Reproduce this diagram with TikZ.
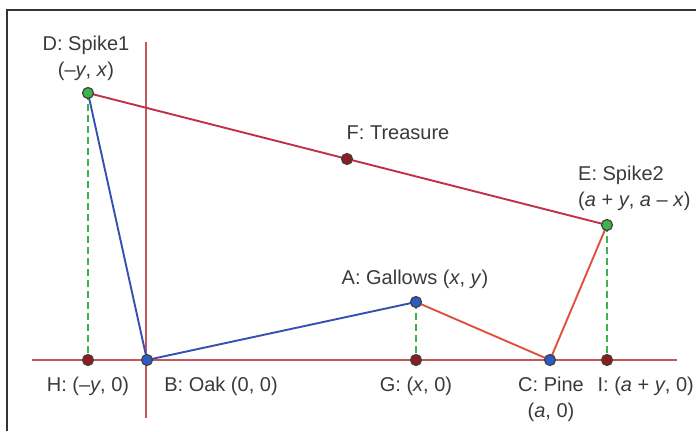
\documentclass[tikz,border=0pt]{standalone}
\usepackage{fontspec}
\setmainfont{Liberation Sans}
\usetikzlibrary{backgrounds}
\definecolor{inkGray} {HTML}{3A3A3A}
\definecolor{frameGray}{HTML}{333333}
\definecolor{axisRed} {HTML}{C4585A}
\definecolor{segCrim} {HTML}{C0304A}
\definecolor{segOrng} {HTML}{E0503E}
\definecolor{segBlue} {HTML}{3550B0}
\definecolor{dashGrn} {HTML}{3CB44B}
\definecolor{ptGreen} {HTML}{3DB54A}
\definecolor{ptDark}  {HTML}{8E1B1E}
\definecolor{ptBlue}  {HTML}{2A5CC8}

\begin{document}
\begin{tikzpicture}[
    x=1pt, y=-1pt,
    every node/.style={font=\fontsize{20}{26}\selectfont, text=inkGray},
    pt/.style={
        circle, draw=black!75, line width=1.2pt,
        minimum size=11pt, inner sep=0pt
    },
    axis/.style={draw=axisRed, line width=2.2pt},
    seg/.style={line width=1.9pt},
    drop/.style={draw=dashGrn, line width=2.2pt, dash pattern=on 7pt off 4pt},
    lbl/.style={align=center, inner sep=1pt}
]
\useasboundingbox (0,0) rectangle (696,431);

% ── FRAME ──────────────────────────────────────────────────────
\draw[frameGray, line width=1.5pt] (7,431) -- (7,10) -- (696,10);

% ── POINTS ─────────────────────────────────────────────────────
\node[pt, fill=ptGreen] (D) at (88,93)   {};
\node[pt, fill=ptGreen] (E) at (607,225) {};
\node[pt, fill=ptDark]  (F) at (347,159) {};
\node[pt, fill=ptBlue]  (A) at (416,302) {};
\node[pt, fill=ptBlue]  (B) at (147,360) {};
\node[pt, fill=ptBlue]  (C) at (550,360) {};
\node[pt, fill=ptDark]  (H) at (88,360)  {};
\node[pt, fill=ptDark]  (G) at (416,360) {};
\node[pt, fill=ptDark]  (I) at (607,360) {};

% axis ends
\coordinate (xl) at (32,360);
\coordinate (xr) at (677,360);
\coordinate (yt) at (146,42);
\coordinate (yb) at (146,418);

% ── LINES ──────────────────────────────────────────────────────
\begin{scope}[on background layer]
    \draw[axis] (xl) -- (xr);
    \draw[axis] (yt) -- (yb);

    \draw[drop] (D.center) -- (H.center);
    \draw[drop] (A.center) -- (G.center);
    \draw[drop] (E.center) -- (I.center);

    \draw[seg, segCrim] (D.center) -- (E.center);
    \draw[seg, segBlue] (D.center) -- (B.center) -- (A.center);
    \draw[seg, segOrng] (A.center) -- (C.center) -- (E.center);
\end{scope}

% ── LABELS ─────────────────────────────────────────────────────
\node[lbl] (lD) at (86,58)   {D: Spike1\\(–\textit{y}, \textit{x})};
\node[lbl] (lF) at (398,133) {F: Treasure};
\node[lbl, align=left, anchor=west]
    (lE) at (577,188) {E: Spike2\\(\textit{a} + \textit{y}, \textit{a} – \textit{x})};
\node[lbl] (lA) at (415,279) {A: Gallows (\textit{x}, \textit{y})};
\node[lbl] (lH) at (88,386)  {H: (–\textit{y}, 0)};
\node[lbl] (lB) at (221,386) {B: Oak (0, 0)};
\node[lbl] (lG) at (416,386) {G: (\textit{x}, 0)};
\node[lbl] (lC) at (551,399) {C: Pine\\(\textit{a}, 0)};
\node[lbl, anchor=east, inner sep=0pt] (lI) at (694,386) {I: (\textit{a} + \textit{y}, 0)};

\end{tikzpicture}
\end{document}
